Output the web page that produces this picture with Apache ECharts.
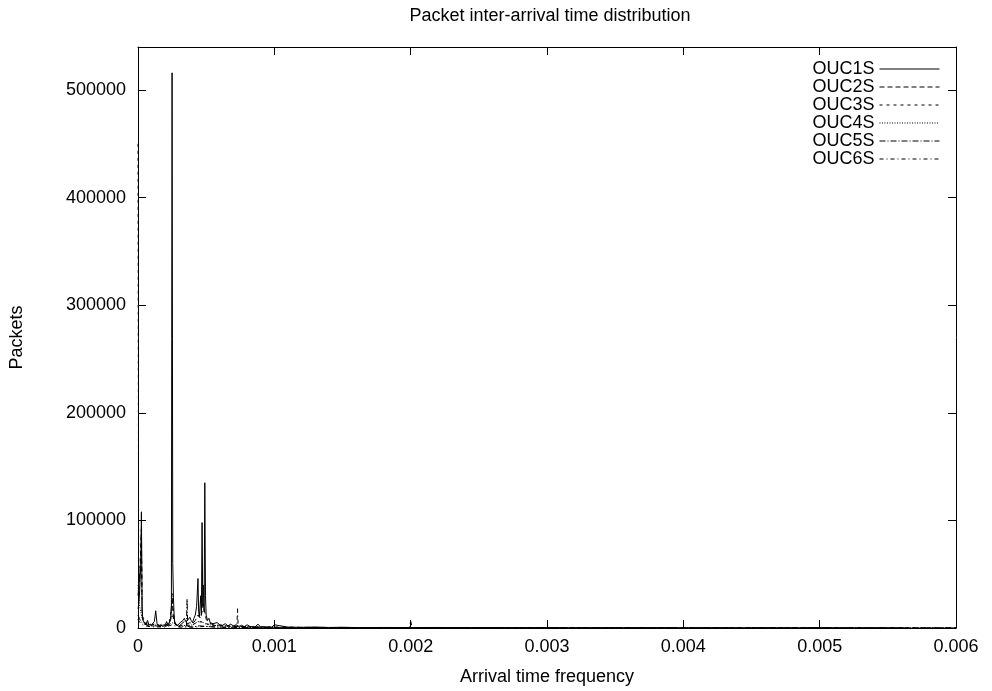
<!DOCTYPE html>
<html>
<head>
<meta charset="utf-8">
<script src="https://cdn.jsdelivr.net/npm/echarts@6/dist/echarts.min.js"></script>
<style>html,body{margin:0;padding:0;background:#fff}#c{width:992px;height:691px}</style>
</head>
<body>
<div id="c"></div>
<script>
// ---- data ----
var seriesNames = ['OUC1S', 'OUC2S', 'OUC3S', 'OUC4S', 'OUC5S', 'OUC6S'];
var xTicks = [0, 0.001, 0.002, 0.003, 0.004, 0.005, 0.006];
var yTicks = [0, 100000, 200000, 300000, 400000, 500000];

var ouc1X = [0, 0.000005, 0.00001, 0.000015, 0.00002, 0.000025, 0.00003, 0.000035, 0.00004, 0.00005, 0.00006, 0.00007, 0.00008, 0.00009, 0.0001, 0.00011, 0.00012, 0.00013, 0.00014, 0.00015, 0.00016, 0.00018, 0.0002, 0.00021, 0.00022, 0.00023, 0.00024, 0.000245, 0.00025, 0.000255, 0.00026, 0.000265, 0.00027, 0.00028, 0.00029, 0.0003, 0.00031, 0.00032, 0.00033, 0.00034, 0.00035, 0.00036, 0.00037, 0.00038, 0.00039, 0.0004, 0.00041, 0.00042, 0.00043, 0.00044, 0.000445, 0.00045, 0.00046, 0.000465, 0.00047, 0.000475, 0.00048, 0.000485, 0.00049, 0.000495, 0.0005, 0.00051, 0.00052, 0.00053, 0.00054, 0.00055, 0.00056, 0.00058, 0.0006, 0.00062, 0.00064, 0.00066, 0.00068, 0.0007, 0.00072, 0.00074, 0.00076, 0.00078, 0.0008, 0.00082, 0.00084, 0.00086, 0.00088, 0.0009, 0.00092, 0.00094, 0.00096, 0.00098, 0.001, 0.0011, 0.0012, 0.0013, 0.0014, 0.0015, 0.0016, 0.0018, 0.002, 0.0022, 0.0024, 0.0026, 0.0028, 0.003, 0.0033, 0.0036, 0.004, 0.0044, 0.0048, 0.0052, 0.0056, 0.006];
var ouc1Y = [18000, 22000, 30000, 42000, 60000, 108000, 20000, 8000, 6000, 5000, 4000, 7000, 3000, 2500, 3000, 4000, 6000, 16000, 3500, 2500, 2000, 2500, 3000, 6000, 2500, 3500, 8000, 20000, 516000, 60000, 28000, 12000, 4000, 3000, 2500, 3000, 5000, 4000, 7000, 9000, 6000, 5000, 8000, 10000, 7000, 5000, 9000, 12000, 20000, 46000, 15000, 10000, 30000, 12000, 98000, 20000, 40000, 15000, 135000, 30000, 12000, 7000, 9000, 5000, 6000, 4000, 3000, 5000, 3000, 2500, 4000, 2000, 3500, 2000, 3000, 1500, 2500, 1200, 3000, 1500, 1000, 1200, 3500, 1000, 1200, 800, 1000, 600, 3000, 800, 600, 900, 500, 700, 400, 500, 400, 500, 300, 400, 300, 300, 200, 300, 200, 200, 200, 150, 100];

var ouc2X = [0, 0.000005, 0.00001, 0.000015, 0.00002, 0.000025, 0.00003, 0.00004, 0.00005, 0.00006, 0.00008, 0.0001, 0.00012, 0.00014, 0.00016, 0.00018, 0.0002, 0.00022, 0.00024, 0.00025, 0.000255, 0.00026, 0.00028, 0.0003, 0.00032, 0.00034, 0.00036, 0.00038, 0.0004, 0.00042, 0.00044, 0.00046, 0.00048, 0.0005, 0.00052, 0.00055, 0.0006, 0.00065, 0.0007, 0.00075, 0.0008, 0.0009, 0.001, 0.0012, 0.0015, 0.002, 0.003, 0.004, 0.005, 0.006];
var ouc2Y = [30000, 38000, 45000, 55000, 70000, 92000, 12000, 6000, 4000, 3000, 5000, 2500, 4000, 3000, 2500, 4000, 2000, 5000, 9000, 32000, 18000, 8000, 3000, 2500, 4000, 6000, 3500, 5000, 4000, 7000, 12000, 9000, 22000, 8000, 5000, 3000, 2500, 2000, 1800, 1500, 1200, 900, 800, 600, 400, 300, 200, 150, 100, 80];

var ouc3X = [0, 0.000005, 0.00001, 0.000015, 0.00002, 0.000025, 0.00003, 0.00004, 0.00005, 0.00007, 0.00009, 0.00011, 0.00013, 0.00015, 0.00017, 0.0002, 0.00023, 0.00025, 0.00027, 0.0003, 0.00033, 0.00036, 0.0004, 0.00043, 0.00046, 0.0005, 0.00055, 0.0006, 0.0007, 0.0008, 0.0009, 0.001, 0.0012, 0.0015, 0.002, 0.0025, 0.003, 0.004, 0.005, 0.006];
var ouc3Y = [450000, 25000, 40000, 58000, 75000, 88000, 15000, 7000, 4000, 3000, 2000, 3000, 2500, 2000, 1500, 2500, 3000, 25000, 4000, 2000, 3000, 2500, 3000, 5000, 6000, 4000, 2500, 2000, 1500, 1200, 1000, 700, 500, 400, 300, 200, 150, 100, 80, 60];

var ouc4X = [0, 0.000005, 0.00001, 0.00002, 0.00003, 0.00004, 0.00006, 0.00008, 0.0001, 0.00012, 0.00015, 0.00018, 0.0002, 0.00022, 0.00025, 0.00028, 0.0003, 0.00033, 0.00036, 0.0004, 0.00044, 0.00048, 0.0005, 0.00055, 0.0006, 0.0007, 0.0008, 0.0009, 0.001, 0.0012, 0.0015, 0.002, 0.003, 0.004, 0.005, 0.006];
var ouc4Y = [40000, 30000, 22000, 15000, 9000, 6000, 4000, 3000, 2500, 3000, 2000, 1500, 2000, 2500, 12000, 3000, 2000, 2500, 2000, 3000, 6000, 5000, 3500, 2500, 2000, 1500, 1000, 800, 600, 500, 400, 300, 200, 100, 80, 50];

var ouc5X = [0, 0.00001, 0.00002, 0.00004, 0.00006, 0.00008, 0.0001, 0.00013, 0.00016, 0.0002, 0.00025, 0.0003, 0.00034, 0.000355, 0.00036, 0.000365, 0.00038, 0.0004, 0.00045, 0.0005, 0.00055, 0.0006, 0.0007, 0.0008, 0.0009, 0.001, 0.0012, 0.0015, 0.002, 0.003, 0.004, 0.005, 0.006];
var ouc5Y = [12000, 9000, 6000, 4000, 3000, 2000, 1500, 2000, 1500, 1200, 5000, 1500, 1200, 2000, 27000, 1500, 1200, 1000, 2000, 1500, 1000, 800, 600, 500, 400, 300, 250, 200, 150, 100, 80, 60, 50];

var ouc6X = [0, 0.00001, 0.00002, 0.00004, 0.00007, 0.0001, 0.00015, 0.0002, 0.00025, 0.0003, 0.0004, 0.0005, 0.0006, 0.0007, 0.000725, 0.00073, 0.000735, 0.0008, 0.0009, 0.001, 0.0013, 0.0016, 0.0019, 0.00199, 0.002, 0.00201, 0.0023, 0.0027, 0.003, 0.004, 0.005, 0.006];
var ouc6Y = [8000, 6000, 4000, 2500, 1500, 1200, 1000, 900, 3000, 900, 800, 1500, 700, 600, 800, 18000, 700, 500, 400, 350, 300, 300, 250, 300, 7000, 250, 200, 200, 150, 100, 80, 50];

var xsList = [ouc1X, ouc2X, ouc3X, ouc4X, ouc5X, ouc6X];
var ysList = [ouc1Y, ouc2Y, ouc3Y, ouc4Y, ouc5Y, ouc6Y];
var dashTypes = ['solid', [5, 3], [3, 4], [1, 1.5], [6, 2, 1, 2], [4, 3, 1, 3]];

// ---- chart ----
var chart = echarts.init(document.getElementById('c'), null, {renderer: 'canvas'});
var FONT = 'Liberation Sans, Arial, Helvetica, sans-serif';

var series = seriesNames.map(function (name, i) {
  var xs = xsList[i], ys = ysList[i];
  return {
    name: name,
    type: 'line',
    data: xs.map(function (x, k) { return [x, ys[k]]; }),
    symbol: 'none',
    showSymbol: false,
    animation: false,
    lineStyle: {color: '#000', width: 1, type: dashTypes[i]},
    itemStyle: {color: '#000'},
    z: 10 - i
  };
});

var axisCommon = {
  axisLine: {show: true, onZero: false, lineStyle: {color: '#000', width: 1}},
  axisTick: {show: true, inside: true, length: 8, lineStyle: {color: '#000', width: 1}},
  splitLine: {show: false}
};

chart.setOption({
  animation: false,
  backgroundColor: '#fff',
  title: {
    text: 'Packet inter-arrival time distribution',
    left: 545, top: 2, textAlign: 'center',
    textStyle: {fontFamily: FONT, fontSize: 18, fontWeight: 'normal', color: '#000'}
  },
  legend: {
    orient: 'vertical',
    right: 47, top: 55,
    align: 'right',
    itemWidth: 60, itemHeight: 9, itemGap: 0,
    itemStyle: {opacity: 0},
    lineStyle: {width: 1, color: '#000'},
    textStyle: {fontFamily: FONT, fontSize: 18, color: '#000', lineHeight: 17, height: 17},
    data: seriesNames
  },
  grid: {left: 133, right: 36, top: 47, bottom: 60, containLabel: false},
  xAxis: [
    Object.assign({}, axisCommon, {
      type: 'value', min: 0, max: 0.006, interval: 0.001, position: 'bottom',
      name: 'Arrival time frequency', nameLocation: 'middle', nameGap: 40,
      nameTextStyle: {fontFamily: FONT, fontSize: 18, color: '#000'},
      axisLabel: {fontFamily: FONT, fontSize: 18, color: '#000', margin: 10,
        formatter: function (v) { return String(+v.toFixed(3)); }}
    }),
    Object.assign({}, axisCommon, {
      type: 'value', min: 0, max: 0.006, interval: 0.001, position: 'top',
      axisLabel: {show: false}
    })
  ],
  yAxis: [
    Object.assign({}, axisCommon, {
      type: 'value', min: 0, max: 540000, interval: 100000, position: 'left',
      name: 'Packets', nameLocation: 'middle', nameGap: 112, nameRotate: 90,
      nameTextStyle: {fontFamily: FONT, fontSize: 18, color: '#000'},
      axisLabel: {fontFamily: FONT, fontSize: 18, color: '#000', margin: 12, showMaxLabel: false,
        formatter: function (v) { return String(v); }}
    }),
    Object.assign({}, axisCommon, {
      type: 'value', min: 0, max: 540000, interval: 100000, position: 'right',
      axisLabel: {show: false}
    })
  ],
  series: series
});
</script>
</body>
</html>
